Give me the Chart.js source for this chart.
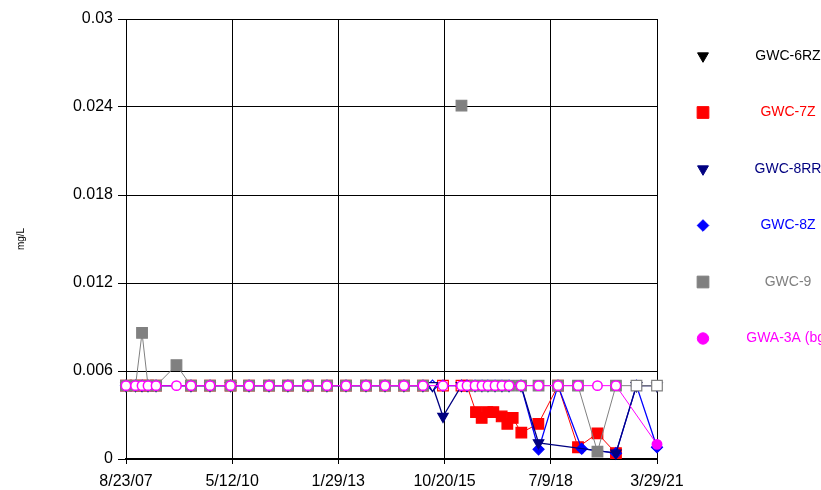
<!DOCTYPE html>
<html>
<head>
<meta charset="utf-8">
<script src="https://cdn.jsdelivr.net/npm/chart.js@4.4.1/dist/chart.umd.min.js"></script>
<style>
  html, body { margin: 0; padding: 0; background: #fff; }
  #wrap { width: 821px; height: 490px; }
</style>
</head>
<body>
<div id="wrap"><canvas id="gwChart" width="821" height="490"></canvas></div>
<script>
// non-detects are plotted at the reporting limit
const RL = 0.005;

const xTickLabels = ['8/23/07', '5/12/10', '1/29/13', '10/20/15', '7/9/18', '3/29/21'];
const yTickValues = [0, 0.006, 0.012, 0.018, 0.024, 0.03];
const yTickLabels = ['0', '0.006', '0.012', '0.018', '0.024', '0.03'];

// sampling rounds for GWC-9 and GWA-3A
const earlyRounds = [
    '2007-08-23', '2007-11-20', '2008-01-20', '2008-03-16', '2008-05-30', '2008-12-07',
    '2009-04-22', '2009-10-17', '2010-04-27', '2010-10-17', '2011-04-22', '2011-10-16',
    '2012-04-20', '2012-10-15', '2013-04-11', '2013-10-15', '2014-04-11', '2014-10-05',
    '2015-04-01'
];
// same rounds for the other wells, which skipped Dec 2008
const wellRounds = [
    '2007-08-23', '2007-11-20', '2008-01-20', '2008-03-16', '2008-05-30',
    '2009-04-22', '2009-10-17', '2010-04-27', '2010-10-17', '2011-04-22', '2011-10-16',
    '2012-04-20', '2012-10-15', '2013-04-11', '2013-10-15', '2014-04-11', '2014-10-05',
    '2015-04-01'
];

const gwc6rzDates = ['2020-09-18', '2021-03-29'];
const gwc6rzValues = [0.005, 0.005];

const gwc7zDates = [...wellRounds,
    '2015-10-05', '2016-03-26', '2016-05-17', '2016-08-09', '2016-10-01', '2016-11-23',
    '2017-01-18', '2017-04-06', '2017-05-29', '2017-07-18', '2017-10-07', '2018-03-15',
    '2018-09-15', '2019-03-21', '2019-09-19', '2020-03-10'];
const gwc7zValues = [
    0.005, 0.005, 0.005, 0.005, 0.005, 0.005, 0.005, 0.005, 0.005,
    0.005, 0.005, 0.005, 0.005, 0.005, 0.005, 0.005, 0.005, 0.005,
    0.005, 0.005, 0.005, 0.0032, 0.0028, 0.0032,
    0.0032, 0.0029, 0.0024, 0.0028, 0.0018, 0.0024,
    0.005, 0.0008, 0.00175, 0.0004];

const gwc8rrDates = [...wellRounds,
    '2015-06-29', '2015-10-05', '2016-03-26', '2016-05-17', '2016-07-31', '2016-10-04',
    '2016-11-29', '2017-02-03', '2017-04-09', '2017-06-14', '2017-10-04', '2018-03-17',
    '2020-03-10', '2020-09-18', '2021-03-29'];
const gwc8rrValues = [
    0.005, 0.005, 0.005, 0.005, 0.005, 0.005, 0.005, 0.005, 0.005,
    0.005, 0.005, 0.005, 0.005, 0.005, 0.005, 0.005, 0.005, 0.005,
    0.005, 0.0029, 0.005, 0.005, 0.005, 0.005,
    0.005, 0.005, 0.005, 0.005, 0.005, 0.0011,
    0.0004, 0.005, 0.005];

const gwc8zDates = [...wellRounds,
    '2015-06-29', '2015-10-05', '2016-03-26', '2016-05-17', '2016-07-31', '2016-10-04',
    '2016-11-29', '2017-02-03', '2017-04-09', '2017-06-14', '2017-10-04', '2018-03-17',
    '2018-09-15', '2019-04-25', '2020-03-10', '2020-09-18', '2021-03-29'];
const gwc8zValues = [
    0.005, 0.005, 0.005, 0.005, 0.005, 0.005, 0.005, 0.005, 0.005,
    0.005, 0.005, 0.005, 0.005, 0.005, 0.005, 0.005, 0.005, 0.005,
    0.005, 0.005, 0.005, 0.005, 0.005, 0.005,
    0.005, 0.005, 0.005, 0.005, 0.005, 0.00066,
    0.005, 0.0007, 0.0004, 0.005, 0.0008];

const gwc9Dates = [...earlyRounds,
    '2015-10-05', '2016-03-26', '2016-05-17', '2016-07-31', '2016-10-04', '2016-11-29',
    '2017-02-03', '2017-04-09', '2017-06-14', '2017-10-04', '2018-03-17', '2018-09-15',
    '2019-03-21', '2019-09-19', '2020-03-10', '2020-09-18', '2021-03-29'];
const gwc9Values = [
    0.005, 0.005, 0.0086, 0.005, 0.005, 0.0064, 0.005, 0.005, 0.005, 0.005,
    0.005, 0.005, 0.005, 0.005, 0.005, 0.005, 0.005, 0.005, 0.005,
    null, 0.0241, null, 0.005, 0.005, 0.005,
    0.005, 0.005, 0.005, 0.005, 0.005, 0.005,
    0.005, 0.0005, 0.005, 0.005, 0.005];

const gwa3aDates = [...earlyRounds,
    '2015-10-05', '2016-03-26', '2016-05-17', '2016-07-31', '2016-10-04', '2016-11-29',
    '2017-02-03', '2017-04-09', '2017-06-14', '2017-10-04', '2018-03-17', '2018-09-15',
    '2019-03-21', '2019-09-19', '2020-03-10', '2021-03-29'];
const gwa3aValues = [
    0.005, 0.005, 0.005, 0.005, 0.005, 0.005, 0.005, 0.005, 0.005, 0.005,
    0.005, 0.005, 0.005, 0.005, 0.005, 0.005, 0.005, 0.005, 0.005,
    0.005, 0.005, 0.005, 0.005, 0.005, 0.005,
    0.005, 0.005, 0.005, 0.005, 0.005, 0.005,
    0.005, 0.005, 0.005, 0.001];

function day(s) { return Date.parse(s) / 864e5; }
function tickDay(label) {
    const [m, d, y] = label.split('/').map(Number);
    return Date.UTC(2000 + y, m - 1, d) / 864e5;
}
function pts(dates, values) {
    return dates.map((d, i) => ({ x: day(d), y: values[i] }));
}

// openFrom: from this date on, points at the reporting limit are drawn hollow
function series(label, dates, values, color, style, radius, order, openFrom, extra) {
    const openDay = day(openFrom);
    return Object.assign({
        label: label,
        data: pts(dates, values),
        borderColor: color,
        borderWidth: 1,
        pointStyle: style,
        pointRadius: radius,
        pointBorderColor: color,
        pointBorderWidth: 1.2,
        pointBackgroundColor: c => (c.raw && c.raw.y === RL && c.raw.x >= openDay) ? '#ffffff' : color,
        order: order,
        clip: false,
        spanGaps: false,
        tension: 0
    }, extra || {});
}

const datasets = [
    series('GWC-6RZ', gwc6rzDates, gwc6rzValues, '#000000', 'triangle', 6, 5, '2000-01-01', { pointRotation: 180 }),
    series('GWC-7Z', gwc7zDates, gwc7zValues, '#ff0000', 'rect', 7.5, 4, '2000-01-01'),
    series('GWC-8RR', gwc8rrDates, gwc8rrValues, '#000080', 'triangle', 6, 2, '2000-01-01', { pointRotation: 180, borderWidth: 1.3 }),
    series('GWC-8Z', gwc8zDates, gwc8zValues, '#0000ff', 'rectRot', 5.5, 3, '2000-01-01', { borderWidth: 1.3 }),
    series('GWC-9', gwc9Dates, gwc9Values, '#808080', 'rect', 7.5, 1, '2020-06-01'),
    series('GWA-3A (bg)', gwa3aDates, gwa3aValues, '#ff00ff', 'circle', 4.7, 0, '2000-01-01', { pointBorderWidth: 1.5 })
];

// legend to the right, one entry per row, text in the series colour
const sideLegend = {
    id: 'sideLegend',
    afterDraw(chart) {
        const ctx = chart.ctx;
        const sizes = [6.3, 8.3, 6.3, 5.8, 8.3, 5.7];
        ctx.save();
        chart.data.datasets.forEach((ds, i) => {
            const y = 56 + i * 56.5;
            ctx.fillStyle = ds.borderColor;
            ctx.strokeStyle = ds.borderColor;
            ctx.lineWidth = 1;
            Chart.helpers.drawPoint(ctx, {
                pointStyle: ds.pointStyle,
                radius: sizes[i],
                rotation: ds.pointRotation || 0,
                borderWidth: 1
            }, 703, y);
            ctx.font = '14px "Liberation Sans", Arial, sans-serif';
            ctx.textAlign = 'center';
            ctx.textBaseline = 'middle';
            ctx.fillText(ds.label, 788, y);
        });
        ctx.restore();
    }
};

Chart.defaults.font.family = '"Liberation Sans", Arial, sans-serif';
Chart.defaults.color = '#000';

const ctx = document.getElementById('gwChart').getContext('2d');
const gwChart = new Chart(ctx, {
    type: 'line',
    data: { datasets: datasets },
    options: {
        responsive: false,
        animation: false,
        events: [],
        layout: { padding: { left: 0, top: 19, right: 164, bottom: 0 } },
        plugins: {
            legend: { display: false },
            tooltip: { enabled: false }
        },
        scales: {
            x: {
                type: 'linear',
                min: tickDay(xTickLabels[0]),
                max: tickDay(xTickLabels[xTickLabels.length - 1]),
                afterBuildTicks: s => { s.ticks = xTickLabels.map(l => ({ value: tickDay(l) })); },
                afterFit: s => { s.height = 31; },
                ticks: {
                    callback: (v, i) => xTickLabels[i],
                    font: { size: 16 },
                    padding: 8,
                    maxRotation: 0,
                    autoSkip: false
                },
                grid: { color: '#000', lineWidth: 1, tickLength: 5 },
                border: { color: '#000', width: 2 }
            },
            y: {
                min: 0,
                max: 0.03,
                afterBuildTicks: s => { s.ticks = yTickValues.map(v => ({ value: v })); },
                afterFit: s => { s.width = 126; },
                ticks: {
                    callback: (v, i) => yTickLabels[i],
                    font: { size: 16 },
                    padding: 5
                },
                grid: { color: '#000', lineWidth: 1, tickLength: 8 },
                border: { color: '#000', width: 1 },
                title: {
                    display: true,
                    text: 'mg/L',
                    font: { size: 10 },
                    padding: { top: 15 }
                }
            }
        }
    },
    plugins: [sideLegend]
});
</script>
</body>
</html>
